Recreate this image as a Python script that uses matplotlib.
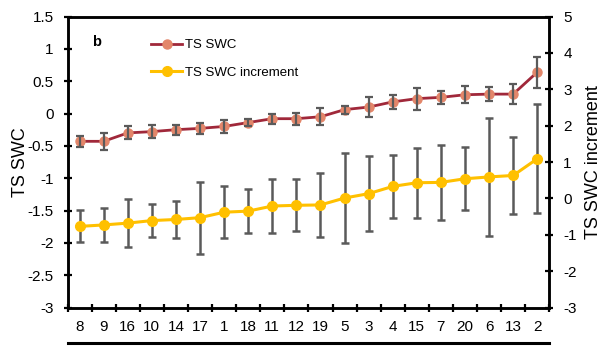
import matplotlib
matplotlib.use("Agg")
import matplotlib.pyplot as plt
from matplotlib.lines import Line2D
import numpy as np

plt.rcParams['font.family'] = ['Liberation Sans', 'DejaVu Sans']

categories = ["8", "9", "16", "10", "14", "17", "1", "18", "11", "12",
              "19", "5", "3", "4", "15", "7", "20", "6", "13", "2"]

ts_swc = [-0.43, -0.43, -0.30, -0.28, -0.25, -0.23, -0.20, -0.14, -0.08, -0.08,
          -0.05, 0.06, 0.10, 0.18, 0.23, 0.25, 0.29, 0.30, 0.30, 0.64]
ts_swc_err = [0.085, 0.13, 0.10, 0.10, 0.075, 0.08, 0.10, 0.06, 0.075, 0.09,
              0.13, 0.06, 0.15, 0.11, 0.17, 0.10, 0.13, 0.11, 0.155, 0.24]

increment = [-0.77, -0.73, -0.68, -0.61, -0.58, -0.53, -0.38, -0.35, -0.21, -0.19,
             -0.18, 0.01, 0.13, 0.33, 0.43, 0.44, 0.54, 0.59, 0.63, 1.09]
increment_err = [0.44, 0.47, 0.65, 0.45, 0.50, 0.99, 0.72, 0.60, 0.73, 0.71,
                 0.87, 1.24, 1.04, 0.87, 0.96, 1.03, 0.87, 1.62, 1.05, 1.50]

x = np.arange(len(categories))

fig = plt.figure(figsize=(6.05, 3.47), dpi=100)
ax = fig.add_axes([0.1116, 0.1138, 0.7964, 0.8386])
ax2 = ax.twinx()

bar_grey = "#5a5a5a"
swc_line = "#A0283A"
swc_marker = "#E3866A"
inc_color = "#FFC000"

ax.errorbar(x, ts_swc, yerr=ts_swc_err, fmt="none", ecolor=bar_grey,
            elinewidth=1.6, capsize=3.2, capthick=1.6, zorder=4)
swc_handle, = ax.plot(x, ts_swc, color=swc_line, lw=2.0, marker="o",
                      markersize=6.5, markerfacecolor=swc_marker,
                      markeredgecolor=swc_marker, zorder=3, label="TS SWC")

ax2.errorbar(x, increment, yerr=increment_err, fmt="none", ecolor=bar_grey,
             elinewidth=1.8, capsize=3.2, capthick=1.8, zorder=2)
inc_handle, = ax2.plot(x, increment, color=inc_color, lw=2.2, marker="o",
                       markersize=7, markerfacecolor=inc_color,
                       markeredgecolor=inc_color, zorder=3,
                       label="TS SWC increment")

ax.set_xlim(-0.5, len(categories) - 0.5)
ax.set_ylim(-3, 1.5)
ax2.set_ylim(-3, 5)
ax.set_yticks(np.arange(-3, 1.51, 0.5))
ax.set_yticklabels([f"{v:g}" for v in np.arange(-3, 1.51, 0.5)])
ax2.set_yticks(np.arange(-3, 5.1, 1))
ax2.set_yticklabels([f"{v:g}" for v in np.arange(-3, 5.1, 1)])

# boundary ticks between categories, labels at category centres
ax.set_xticks(np.arange(-0.5, len(categories), 1.0))
ax.set_xticklabels([])
ax.set_xticks(x, minor=True)
ax.set_xticklabels(categories, minor=True)
ax.tick_params(axis="x", which="minor", length=0, pad=9, labelsize=11)
ax.tick_params(axis="x", which="major", direction="inout", length=6, width=1.6)
ax.tick_params(axis="y", direction="inout", length=6, width=1.6, pad=7,
               labelsize=11)
ax2.tick_params(axis="y", direction="inout", length=6, width=1.6, pad=7,
                labelsize=11)

for a in (ax, ax2):
    for s in a.spines.values():
        s.set_linewidth(1.8)
        s.set_color("black")

ax.set_ylabel("TS SWC", fontsize=13, labelpad=-1)
ax2.set_ylabel("TS SWC increment", fontsize=13, labelpad=6)

ax.text(0.05, 0.914, "b", transform=ax.transAxes, fontsize=10.5,
        fontweight="bold", ha="left", va="center")

ax2.legend(handles=[swc_handle, inc_handle], loc="upper left",
           bbox_to_anchor=(0.163, 0.94), frameon=False, fontsize=9.5,
           handlelength=2.3, labelspacing=1.15, handletextpad=0.25,
           borderaxespad=0)

# underline beneath the category labels
fig.add_artist(Line2D([0.1116, 0.908], [0.012, 0.012], color="black",
                      lw=2.2, transform=fig.transFigure))

fig.savefig("out.png", dpi=100)
